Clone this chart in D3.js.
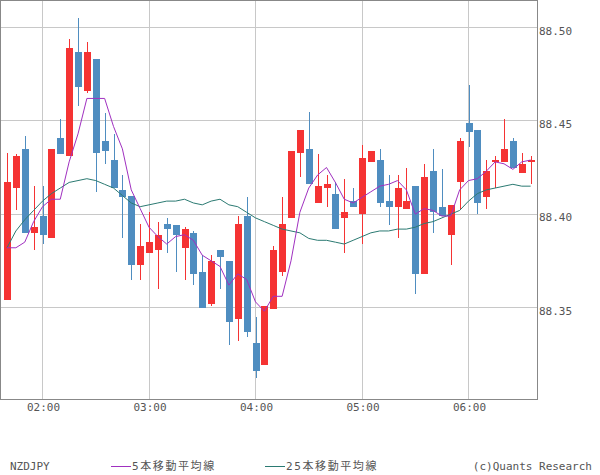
<!DOCTYPE html>
<html><head><meta charset="utf-8">
<script src="https://cdn.jsdelivr.net/npm/d3@7"></script>
<style>
html,body{margin:0;padding:0;background:#fff;}
svg{display:block;}
text{font-family:"DejaVu Sans Mono","Liberation Mono","Noto Sans CJK JP",monospace;fill:#555;}
</style></head>
<body>
<svg id="chart" width="600" height="475"></svg>
<script>
const times = ["01:40","01:45","01:50","01:55","02:00","02:05","02:10","02:15","02:20","02:25","02:30","02:35",
"02:40","02:45","02:50","02:55","03:00","03:05","03:10","03:15","03:20","03:25","03:30","03:35",
"03:40","03:45","03:50","03:55","04:00","04:05","04:10","04:15","04:20","04:25","04:30","04:35",
"04:40","04:45","04:50","04:55","05:00","05:05","05:10","05:15","05:20","05:25","05:30","05:35",
"05:40","05:45","05:50","05:55","06:00","06:05","06:10","06:15","06:20","06:25","06:30","06:35"];
const open = [88.354,88.414,88.435,88.390,88.399,88.387,88.441,88.431,88.487,88.466,
88.483,88.439,88.429,88.413,88.410,88.373,88.379,88.381,88.395,88.394,
88.382,88.390,88.369,88.352,88.381,88.375,88.344,88.399,88.331,88.319,
88.349,88.369,88.398,88.433,88.435,88.406,88.414,88.411,88.398,88.407,
88.400,88.428,88.429,88.407,88.404,88.403,88.415,88.368,88.423,88.404,
88.389,88.417,88.449,88.445,88.409,88.428,88.428,88.439,88.422,88.428];
const high = [88.433,88.432,88.442,88.415,88.415,88.435,88.451,88.494,88.505,88.492,
88.483,88.454,88.443,88.421,88.410,88.395,88.401,88.396,88.398,88.394,
88.393,88.391,88.378,88.378,88.381,88.375,88.399,88.409,88.345,88.351,
88.383,88.409,88.434,88.445,88.455,88.432,88.421,88.417,88.419,88.414,
88.437,88.434,88.435,88.421,88.421,88.425,88.415,88.427,88.435,88.424,
88.405,88.441,88.469,88.445,88.429,88.431,88.451,88.441,88.433,88.431];
const low = [88.354,88.402,88.390,88.381,88.384,88.387,88.432,88.431,88.458,88.465,
88.412,88.427,88.414,88.387,88.365,88.365,88.379,88.360,88.379,88.369,
88.365,88.362,88.350,88.351,88.360,88.330,88.332,88.334,88.312,88.319,
88.349,88.367,88.398,88.420,88.416,88.406,88.404,88.392,88.379,88.404,
88.384,88.428,88.404,88.394,88.387,88.403,88.357,88.368,88.390,88.399,
88.373,88.402,88.436,88.400,88.403,88.414,88.428,88.425,88.422,88.416];
const close = [88.417,88.431,88.390,88.393,88.389,88.435,88.432,88.489,88.468,88.487,
88.433,88.434,88.414,88.409,88.373,88.383,88.385,88.389,88.392,88.389,
88.392,88.368,88.350,88.375,88.377,88.342,88.395,88.337,88.316,88.351,
88.381,88.395,88.434,88.445,88.416,88.415,88.416,88.392,88.401,88.404,
88.430,88.434,88.406,88.404,88.414,88.407,88.368,88.420,88.401,88.399,
88.405,88.439,88.444,88.406,88.423,88.429,88.435,88.425,88.427,88.429];
const ma5 = [88.382,88.382,88.385,88.396,88.404,88.408,88.408,88.428,88.443,88.462,
88.462,88.462,88.447,88.435,88.413,88.403,88.393,88.388,88.384,88.388,
88.389,88.386,88.378,88.375,88.372,88.362,88.368,88.365,88.353,88.348,
88.356,88.356,88.375,88.401,88.414,88.421,88.425,88.417,88.408,88.406,
88.409,88.412,88.415,88.416,88.418,88.413,88.400,88.403,88.402,88.399,
88.399,88.413,88.418,88.419,88.423,88.428,88.427,88.424,88.428,88.429];
const ma25 = [88.382,88.391,88.397,88.402,88.407,88.411,88.414,88.417,88.418,88.419,
88.418,88.416,88.414,88.410,88.406,88.404,88.405,88.406,88.407,88.407,
88.408,88.406,88.405,88.407,88.408,88.405,88.404,88.401,88.398,88.396,
88.394,88.392,88.391,88.390,88.387,88.386,88.386,88.385,88.384,88.386,
88.388,88.390,88.391,88.391,88.392,88.392,88.393,88.395,88.396,88.398,
88.400,88.402,88.407,88.411,88.413,88.414,88.415,88.416,88.415,88.415];
const xTickLabels = ["02:00","03:00","04:00","05:00","06:00"];
const yTicks = [88.35,88.40,88.45,88.50];
const symbol = "NZDJPY";
const legendNames = ["5本移動平均線","25本移動平均線"];
const credit = "(c)Quants Research";

const parse = d3.timeParse("%H:%M");
const svg = d3.select("#chart");
const plot = {left:0.5, top:0.5, right:537.5, bottom:399.5};

const x = d3.scaleTime().domain([parse("02:00"), parse("06:00")]).range([42.5, 468.5]);
const y = d3.scaleLinear().domain([88.35, 88.50]).range([307.5, 27.5]);

const upColor = "#f53333", downColor = "#4f8dc0";
const ma5Color = "#a030c0", ma25Color = "#2b7a72";

// gridlines
const grid = svg.append("g").attr("shape-rendering","crispEdges");
grid.selectAll("line.v").data(xTickLabels).join("line")
  .attr("x1", d => Math.floor(x(parse(d)))+0.5).attr("x2", d => Math.floor(x(parse(d)))+0.5)
  .attr("y1", plot.top).attr("y2", plot.bottom)
  .attr("stroke","#c8c8c8");
grid.selectAll("line.h").data(yTicks).join("line")
  .attr("y1", d => Math.floor(y(d))+0.5).attr("y2", d => Math.floor(y(d))+0.5)
  .attr("x1", plot.left).attr("x2", plot.right)
  .attr("stroke","#c8c8c8");

// candles
const data = times.map((t,i)=>({t:parse(t), o:open[i], h:high[i], l:low[i], c:close[i]}));
const cg = svg.append("g").attr("shape-rendering","crispEdges");
const cand = cg.selectAll("g").data(data).join("g");
cand.append("rect")
  .attr("x", d => Math.round(x(d.t))-0.5+0.5-0.5)
  .attr("width", 1)
  .attr("y", d => y(d.h))
  .attr("height", d => Math.max(1, y(d.l)-y(d.h)))
  .attr("fill", d => d.c >= d.o ? upColor : downColor);
cand.append("rect")
  .attr("x", d => Math.round(x(d.t))-3.5)
  .attr("width", 7)
  .attr("y", d => y(Math.max(d.o,d.c)))
  .attr("height", d => Math.max(1.5, Math.abs(y(d.o)-y(d.c))))
  .attr("fill", d => d.c >= d.o ? upColor : downColor);

// moving averages
const lineGen = arr => d3.line().x((d,i)=>x(parse(times[i]))).y(d=>y(d))(arr);
svg.append("path").attr("d", lineGen(ma25)).attr("fill","none").attr("stroke",ma25Color).attr("stroke-width",1);
svg.append("path").attr("d", lineGen(ma5)).attr("fill","none").attr("stroke",ma5Color).attr("stroke-width",1);

// frame
svg.append("rect").attr("x",plot.left).attr("y",plot.top)
  .attr("width",plot.right-plot.left).attr("height",plot.bottom-plot.top)
  .attr("fill","none").attr("stroke","#888").attr("shape-rendering","crispEdges");

// y axis (right)
const yAxis = d3.axisRight(y).tickValues(yTicks).tickSize(0).tickPadding(0).tickFormat(d3.format(".2f"));
const ya = svg.append("g").attr("transform","translate(539,3)").call(yAxis);
ya.select(".domain").remove();
ya.selectAll("text").attr("font-size","11px").attr("fill","#555").attr("font-family",null).attr("dy","0.32em");

// x axis
const xAxis = d3.axisBottom(x).tickValues(xTickLabels.map(parse)).tickSize(0).tickPadding(0).tickFormat(d3.timeFormat("%H:%M"));
const xa = svg.append("g").attr("transform","translate(0.5,403)").call(xAxis);
xa.select(".domain").remove();
xa.selectAll("text").attr("font-size","11px").attr("fill","#555").attr("font-family",null);

// legend
const lg = svg.append("g");
lg.append("text").attr("x",10).attr("y",470).attr("font-size","11px").text(symbol);
lg.append("line").attr("x1",111).attr("x2",131).attr("y1",466.5).attr("y2",466.5).attr("stroke",ma5Color);
lg.append("text").attr("x",132).attr("y",470).attr("font-size","11px").attr("letter-spacing","1.6px").text(legendNames[0]);
lg.append("line").attr("x1",265).attr("x2",285).attr("y1",466.5).attr("y2",466.5).attr("stroke",ma25Color);
lg.append("text").attr("x",286).attr("y",470).attr("font-size","11px").attr("letter-spacing","1.6px").text(legendNames[1]);
lg.append("text").attr("x",592).attr("y",470).attr("font-size","11px").attr("text-anchor","end").text(credit);
</script>
</body></html>
